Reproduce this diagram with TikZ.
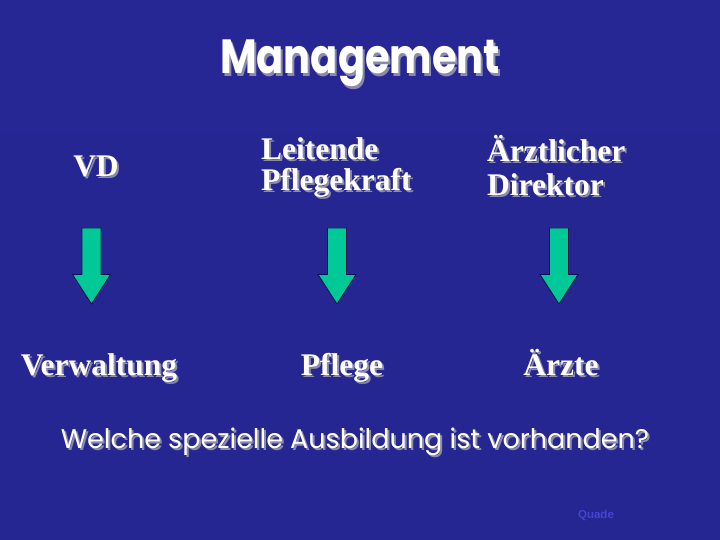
\documentclass[tikz,border=0pt]{standalone}
\usepackage{fontspec}
\setmainfont{Liberation Serif}
\newfontfamily\comicf{Poppins}
\newfontfamily\quadef{Liberation Sans}
\usetikzlibrary{calc}
\definecolor{bgtop}{HTML}{262694}
\definecolor{bgmid}{HTML}{3636CC}
\definecolor{bgbot}{HTML}{262692}
\definecolor{arrfill}{HTML}{00C896}
\definecolor{arrline}{HTML}{101050}
\definecolor{shadowc}{HTML}{8A8AAA}
\definecolor{quadec}{HTML}{4444D4}
\newcommand\sh[1]{\leavevmode\rlap{\kern2pt\raisebox{-2pt}{\color{shadowc}#1}}#1}
\tikzset{
  lbl/.style={text=white, font=\bfseries\fontsize{31.5}{31}\selectfont, inner sep=0pt, align=left},
  ttl/.style={text=white, font=\comicf\bfseries\fontsize{40}{44}\selectfont, inner sep=0pt},
  qst/.style={text=white, font=\comicf\fontsize{27}{30}\selectfont, inner sep=0pt},
  blockarrow/.style={fill=arrfill, draw=arrline, line width=0.8pt, line join=miter},
}
\begin{document}
\begin{tikzpicture}[x=1pt,y=-1pt]
\useasboundingbox (0,0) rectangle (720,540);
\shade[top color=bgtop, middle color=bgmid, bottom color=bgbot] (0,0) rectangle (720,540);
\node[ttl, anchor=base] (title) at (360,74) {\scalebox{1}[1.2]{\sh{Management}}};
\node[lbl, anchor=base] (vd) at (96,177) {\sh{VD}};
\node[lbl, anchor=west] (lp) at (261,169) {\sh{Leitende}\\\sh{Pflegekraft}};
\node[lbl, anchor=west, font=\bfseries\fontsize{31.5}{34}\selectfont] (ad) at (487,167) {\sh{Ärztlicher}\\\sh{Direktor}};
\node[lbl, anchor=base] (verw) at (99,375) {\sh{Verwaltung}};
\node[lbl, anchor=base] (pfl) at (342,375) {\sh{Pflege}};
\node[lbl, anchor=base] (arz) at (561,375) {\sh{Ärzte}};
\node[qst, anchor=base] (q) at (355,448) {\sh{Welche spezielle Ausbildung ist vorhanden?}};
\node[text=quadec, font=\quadef\bfseries\fontsize{11.5}{13}\selectfont, inner sep=0pt] (quade) at (596,515) {Quade};
\foreach \cx/\n in {91.5/a1, 337/a2, 559/a3}{
  \draw[blockarrow] (\cx-9.5,228) -- (\cx+9.5,228) -- (\cx+9.5,274.5) -- (\cx+19,274.5)
     -- (\cx,304) -- (\cx-19,274.5) -- (\cx-9.5,274.5) -- cycle;
}
\end{tikzpicture}
\end{document}
